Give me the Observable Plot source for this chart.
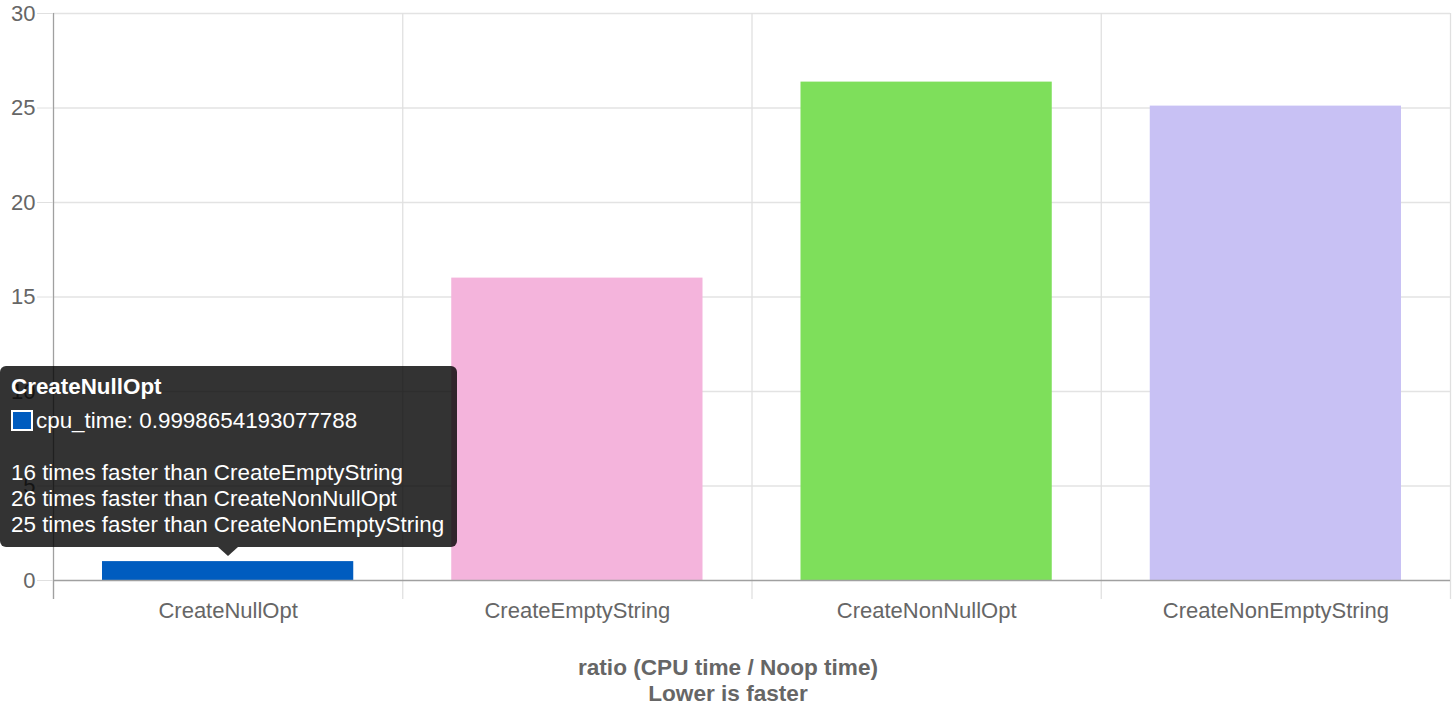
<!DOCTYPE html>
<html>
<head>
<meta charset="utf-8">
<script src="https://cdn.jsdelivr.net/npm/d3@7"></script>
<script src="https://cdn.jsdelivr.net/npm/@observablehq/plot@0.6"></script>
<style>
  body { margin: 0; background: #fff; font-family: "Liberation Sans", Arial, sans-serif; }
  #wrap { position: relative; width: 1456px; }
  #title { text-align: center; color: #666; font-weight: bold; font-size: 22.6px; line-height: 26px; padding-top: 25px; }
  #tip { position: absolute; background: rgba(0,0,0,0.8); color: #fff; border-radius: 6px; white-space: nowrap;
         font-size: 22.4px; line-height: 26px; padding: 8px 8px 9px 11px; box-sizing: border-box; }
  #tip .t { font-weight: bold; margin-bottom: 8px; }
  #tip .sw { display: inline-block; width: 18px; height: 17px; border: 2px solid #fff; vertical-align: -3px; margin-right: 3px; }
  #caret { position: absolute; width: 0; height: 0; border-left: 10px solid transparent; border-right: 10px solid transparent; border-top: 9px solid rgba(0,0,0,0.8); }
</style>
</head>
<body>
<div id="wrap"></div>
<script>
const categories = ["CreateNullOpt", "CreateEmptyString", "CreateNonNullOpt", "CreateNonEmptyString"];
const cpuTime = [0.9998654193077788, 16.0, 26.37, 25.1];
const colors = ["#005cbf", "#f4b4dc", "#7edf5b", "#c8c1f4"];
const yTicks = [0, 5, 10, 15, 20, 25, 30];
const titleLines = ["ratio (CPU time / Noop time)", "Lower is faster"];
const seriesName = "cpu_time";
const hovered = 0;

const data = categories.map((c, i) => ({c, i, v: cpuTime[i], color: colors[i]}));
const edges = d3.range(categories.length + 1);
const centers = categories.map((c, i) => i + 0.5);

const chart = Plot.plot({
  width: 1456,
  height: 630,
  marginLeft: 53,
  marginRight: 6,
  marginTop: 13,
  marginBottom: 50,
  style: {fontFamily: '"Liberation Sans", Arial, sans-serif', fontSize: "22px", background: "#fff"},
  x: {domain: [0, categories.length], axis: null},
  y: {domain: [0, 30], axis: null},
  marks: [
    Plot.ruleY(yTicks.slice(1), {stroke: "#e3e3e3", strokeWidth: 1.3}),
    Plot.ruleX(edges, {y1: 0, y2: 30, stroke: d => d === 0 ? "#a0a0a0" : "#e0e0e0", strokeWidth: 1.3}),
    Plot.axisX({ticks: edges, tickSize: 19, tickFormat: () => "", label: null, stroke: "#e0e0e0", strokeWidth: 1.3}),
    Plot.axisX({ticks: [0], tickSize: 19, tickFormat: () => "", label: null, stroke: "#a0a0a0", strokeWidth: 1.3}),
    Plot.axisY({ticks: yTicks, tickSize: 16, tickPadding: 2, label: null, stroke: "#e0e0e0", fill: "#666", fontSize: 22}),
    Plot.rectY(data, {x1: "i", x2: d => d.i + 1, y: "v", fill: "color", insetLeft: 49, insetRight: 49}),
    Plot.ruleY([0], {stroke: "#a0a0a0", strokeWidth: 1.3}),
    Plot.axisX({ticks: centers, tickSize: 0, tickPadding: 22, label: null, tickFormat: d => categories[Math.floor(d)], fill: "#666", fontSize: 22})
  ]
});

const wrap = document.getElementById("wrap");
wrap.appendChild(chart);

const title = document.createElement("div");
title.id = "title";
title.innerHTML = titleLines.map(s => `<div>${s}</div>`).join("");
wrap.appendChild(title);

// tooltip
const xs = chart.scale("x"), ys = chart.scale("y");
const cx = xs.apply(hovered + 0.5);
const barTop = ys.apply(cpuTime[hovered]);
const tip = document.createElement("div");
tip.id = "tip";
const lines = categories.map((c, j) => j === hovered ? null : `${Math.round(cpuTime[j] / cpuTime[hovered])} times faster than ${c}`).filter(Boolean);
tip.innerHTML = `<div class="t">${categories[hovered]}</div>` +
  `<div><span class="sw" style="background:${colors[hovered]}"></span>${seriesName}: ${cpuTime[hovered]}</div>` +
  `<div>&nbsp;</div>` + lines.map(s => `<div>${s}</div>`).join("");
tip.style.left = "0px";
tip.style.width = "457px";
wrap.appendChild(tip);
const h = tip.offsetHeight;
const tipBottom = barTop - 14;
tip.style.top = (tipBottom - h) + "px";
const caret = document.createElement("div");
caret.id = "caret";
caret.style.left = (cx - 10) + "px";
caret.style.top = tipBottom + "px";
wrap.appendChild(caret);
</script>
</body>
</html>
